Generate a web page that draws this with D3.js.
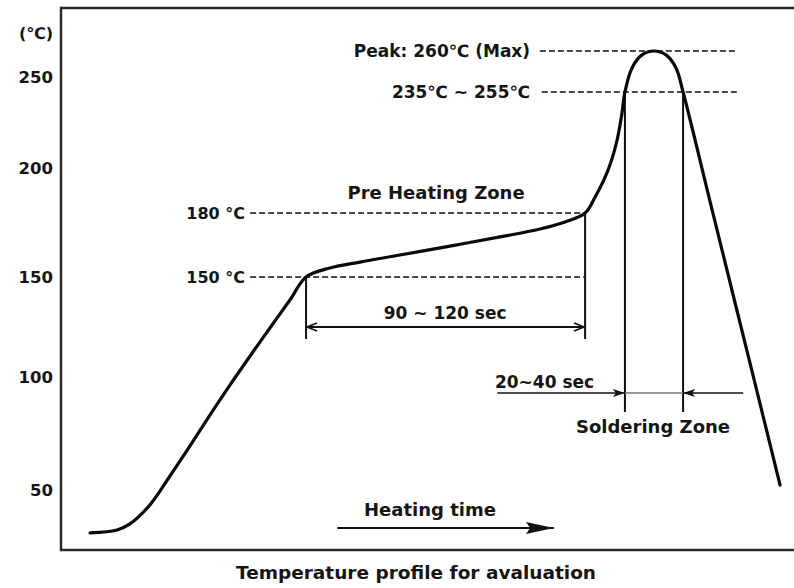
<!DOCTYPE html>
<html>
<head>
<meta charset="utf-8">
<script src="https://cdn.jsdelivr.net/npm/d3@7"></script>
<style>
  html, body { margin: 0; padding: 0; background: #fff; }
  svg { display: block; }
  text { font-family: "DejaVu Sans", Verdana, sans-serif; font-weight: bold; fill: #151515; }
</style>
</head>
<body>
<svg id="chart" width="794" height="588"></svg>
<script>
// ---------- data ----------
// reflow profile: time (s) and temperature (°C)
const timeS = [11.9, 22.9, 28.2, 36.4, 44.6, 52.8, 61.0, 69.2, 77.4, 85.5, 93.7, 100.3,
               110.1, 122.4, 138.7, 159.2, 179.7, 196.0, 206.3, 214.5,
               218.6, 222.2, 225.1, 227.6, 229.6, 230.8,
               233.7, 237.8, 242.7, 247.6, 251.7, 254.6,
               265.6, 275.9, 284.9, 294.3];
const tempC = [31.0, 32.3, 35.0, 43.4, 56.2, 69.5, 83.2, 96.5, 110.5, 124.5, 138.5, 150,
               154.2, 157.0, 160.3, 164.5, 168.8, 172.5, 175.8, 180,
               187.1, 194.7, 202.8, 212.9, 225.3, 235,
               253.5, 258.5, 260, 258.5, 253.5, 235,
               185.3, 137, 93.4, 52.2];

const yTicks = [50, 100, 150, 200, 250];
const yUnit = "(℃)";

// dashed reference levels
const refTemps  = [150, 180, 260, 235];
const refStart  = [77.4, 77.4, 196, 196.8];
const refEnd    = [214.5, 214.5, 276.7, 276.7];
const refLabels = ["150 °C", "180 °C", "Peak: 260℃ (Max)", "235℃ ~ 255℃"];
const refLabelEnd = [75.3, 75.3, 192, 192];

// zones
const preheatTimes = [100.3, 214.5];    // 90 ~ 120 sec
const preheatTemps = [150, 180];
const solderTimes  = [230.8, 254.6];    // 20 ~ 40 sec
const solderTop    = 235;

const chartTitle = "Temperature profile for avaluation";

// ---------- layout ----------
const svg = d3.select("#chart");
const frameLeft = 61, frameTop = 8, frameBottom = 550, frameRight = 794;

const x = d3.scaleLinear().domain([0, 300]).range([frameLeft, 794]);
// the drawing's temperature axis is not evenly spaced; follow its label positions
const y = d3.scaleLinear()
  .domain([0, 50, 100, 150, 180, 200, 235, 250, 260])
  .range([603, 490, 377, 277, 213, 168, 92, 77, 51]);

// markers
const defs = svg.append("defs");
defs.append("marker").attr("id", "openArrow").attr("viewBox", "0 0 12 10")
  .attr("refX", 11).attr("refY", 5).attr("markerWidth", 12).attr("markerHeight", 10)
  .attr("markerUnits", "userSpaceOnUse").attr("orient", "auto-start-reverse")
  .append("path").attr("d", "M1,1 L11,5 L1,9").attr("fill", "none").attr("stroke", "#111").attr("stroke-width", 1.8);
defs.append("marker").attr("id", "smallHead").attr("viewBox", "0 0 12 10")
  .attr("refX", 11).attr("refY", 5).attr("markerWidth", 12).attr("markerHeight", 10)
  .attr("markerUnits", "userSpaceOnUse").attr("orient", "auto-start-reverse")
  .append("path").attr("d", "M0,1 L12,5 L0,9 L3,5 Z").attr("fill", "#111");
defs.append("marker").attr("id", "bigHead").attr("viewBox", "0 0 28 14")
  .attr("refX", 27).attr("refY", 7).attr("markerWidth", 28).attr("markerHeight", 14)
  .attr("markerUnits", "userSpaceOnUse").attr("orient", "auto")
  .append("path").attr("d", "M0,1 L28,7 L0,13 L4,7 Z").attr("fill", "#111");

// frame
const frame = svg.append("g").attr("stroke", "#2a2a2a").attr("stroke-width", 2.5).attr("fill", "none");
frame.append("line").attr("x1", frameLeft).attr("x2", frameLeft).attr("y1", frameTop - 1.25).attr("y2", frameBottom + 1.25);
frame.append("line").attr("x1", frameLeft).attr("x2", frameRight).attr("y1", frameTop).attr("y2", frameTop);
frame.append("line").attr("x1", frameLeft).attr("x2", frameRight).attr("y1", frameBottom).attr("y2", frameBottom);

// y axis labels
const yAxis = d3.axisLeft(y).tickValues(yTicks).tickSize(0).tickPadding(8).tickFormat(d3.format("d"));
const ga = svg.append("g").attr("transform", `translate(${frameLeft},0)`).call(yAxis);
ga.select(".domain").remove();
ga.selectAll("text").attr("font-size", 16.5).attr("font-family", "DejaVu Sans, sans-serif").attr("font-weight", "bold").attr("fill", "#1a1a1a");

svg.append("text").attr("x", 36).attr("y", 33).attr("text-anchor", "middle").attr("dominant-baseline", "central")
  .attr("font-size", 16).text(yUnit);

// dashed reference lines + labels
refTemps.forEach((t, i) => {
  svg.append("line").attr("x1", x(refStart[i])).attr("x2", x(refEnd[i]))
    .attr("y1", y(t)).attr("y2", y(t))
    .attr("stroke", "#111").attr("stroke-width", 1.6).attr("stroke-dasharray", "6,3");
  svg.append("text").attr("x", x(refLabelEnd[i])).attr("y", y(t))
    .attr("text-anchor", "end").attr("dominant-baseline", "central")
    .attr("font-size", i < 2 ? 16 : 17).text(refLabels[i]);
});

// preheat verticals and double arrow
const preBottom = 119, preArrow = 125;
preheatTimes.forEach((t, i) => {
  svg.append("line").attr("x1", x(t)).attr("x2", x(t)).attr("y1", y(preheatTemps[i])).attr("y2", y(preBottom))
    .attr("stroke", "#111").attr("stroke-width", 2);
});
svg.append("line").attr("x1", x(preheatTimes[0]) + 1).attr("x2", x(preheatTimes[1]) - 1)
  .attr("y1", y(preArrow)).attr("y2", y(preArrow))
  .attr("stroke", "#111").attr("stroke-width", 1.8)
  .attr("marker-start", "url(#openArrow)").attr("marker-end", "url(#openArrow)");
svg.append("text").attr("x", x(157.2)).attr("y", y(132)).attr("text-anchor", "middle")
  .attr("dominant-baseline", "central").attr("font-size", 17).text("90 ~ 120 sec");
svg.append("text").attr("x", x(153.5)).attr("y", y(189.3)).attr("text-anchor", "middle")
  .attr("dominant-baseline", "central").attr("font-size", 18).text("Pre Heating Zone");

// soldering zone
const solBottom = 84.5, solArrow = 92.9;
solderTimes.forEach(t => {
  svg.append("line").attr("x1", x(t)).attr("x2", x(t)).attr("y1", y(solderTop)).attr("y2", y(solBottom))
    .attr("stroke", "#111").attr("stroke-width", 2);
});
svg.append("line").attr("x1", x(solderTimes[0])).attr("x2", x(solderTimes[1]))
  .attr("y1", y(solArrow)).attr("y2", y(solArrow)).attr("stroke", "#777").attr("stroke-width", 1.5);
svg.append("line").attr("x1", x(178.6)).attr("x2", x(solderTimes[0]) - 1)
  .attr("y1", y(solArrow)).attr("y2", y(solArrow)).attr("stroke", "#111").attr("stroke-width", 1.6)
  .attr("marker-end", "url(#smallHead)");
svg.append("line").attr("x1", x(279.2)).attr("x2", x(solderTimes[1]) + 1)
  .attr("y1", y(solArrow)).attr("y2", y(solArrow)).attr("stroke", "#111").attr("stroke-width", 1.6)
  .attr("marker-end", "url(#smallHead)");
svg.append("text").attr("x", x(177.6)).attr("y", y(97.8)).attr("text-anchor", "start")
  .attr("dominant-baseline", "central").attr("font-size", 17).text("20~40 sec");
svg.append("text").attr("x", x(242.3)).attr("y", y(77.9)).attr("text-anchor", "middle")
  .attr("dominant-baseline", "central").attr("font-size", 18).text("Soldering Zone");

// heating time arrow
svg.append("line").attr("x1", x(113.4)).attr("x2", x(201.4)).attr("y1", y(33.2)).attr("y2", y(33.2))
  .attr("stroke", "#111").attr("stroke-width", 2).attr("stroke-linecap", "round")
  .attr("marker-end", "url(#bigHead)");
svg.append("text").attr("x", x(151)).attr("y", y(41.2)).attr("text-anchor", "middle")
  .attr("dominant-baseline", "central").attr("font-size", 18).text("Heating time");

// profile curve
const pts = timeS.map((t, i) => [t, tempC[i]]);
const line = d3.line().x(d => x(d[0])).y(d => y(d[1])).curve(d3.curveCatmullRom.alpha(0.5));
svg.append("path").datum(pts).attr("d", line)
  .attr("fill", "none").attr("stroke", "#0a0a0a").attr("stroke-width", 3.2)
  .attr("stroke-linejoin", "round").attr("stroke-linecap", "round");

// title below the frame
svg.append("text").attr("x", 416).attr("y", 572).attr("text-anchor", "middle")
  .attr("dominant-baseline", "central").attr("font-size", 18.5).text(chartTitle);
</script>
</body>
</html>
